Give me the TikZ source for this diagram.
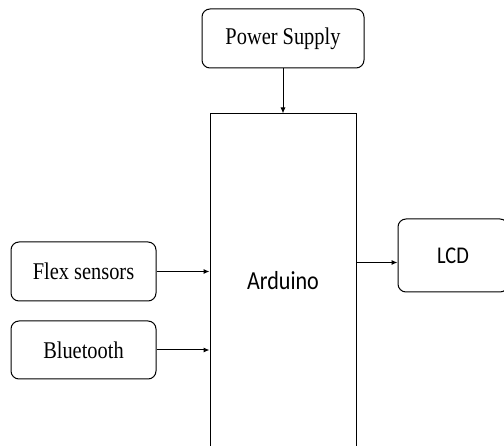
\documentclass[tikz,border=0pt]{standalone}
\usepackage{fontspec}
\setmainfont{Liberation Serif}
\newfontfamily\serifnarrow[FakeStretch=0.85]{Liberation Serif}
\newfontfamily\sansnarrow[FakeStretch=0.85]{Carlito}
\usetikzlibrary{arrows.meta}
\begin{document}
\begin{tikzpicture}[x=1pt,y=-1pt,
  rbox/.style={draw=black, line width=1pt, rounded corners=8pt, inner sep=0pt, font=\serifnarrow\fontsize{24}{26}\selectfont},
  mainbox/.style={draw=black, line width=1pt, inner sep=0pt, font=\sansnarrow\fontsize{26}{28}\selectfont},
  conn/.style={draw=black, line width=1pt, -{Latex[length=6pt,width=5pt]}}]
\useasboundingbox (0,0) rectangle (504,446);
\clip (0,0) rectangle (504,446);
\fill[white] (0,0) rectangle (504,446);
\node[rbox, minimum width=162pt, minimum height=59pt] (power) at (283,38.5) {Power Supply};
\node[mainbox, minimum width=146pt, minimum height=334pt] (arduino) at (283,281) {Arduino};
\node[rbox, minimum width=145pt, minimum height=59pt] (flex) at (83.5,271.5) {Flex sensors};
\node[rbox, minimum width=145pt, minimum height=58pt] (bt) at (83.5,350) {Bluetooth};
\node[rbox, font=\sansnarrow\fontsize{24}{26}\selectfont, minimum width=110pt, minimum height=73pt] (lcd) at (453,255.5) {LCD};
\coordinate (a1) at (356,262.5);
\draw[conn] (power.south) -- (arduino.north);
\draw[conn] (flex.east) -- (flex.east -| arduino.west);
\draw[conn] (bt.east) -- (bt.east -| arduino.west);
\draw[conn] (a1) -- (a1 -| lcd.west);
\end{tikzpicture}
\end{document}
